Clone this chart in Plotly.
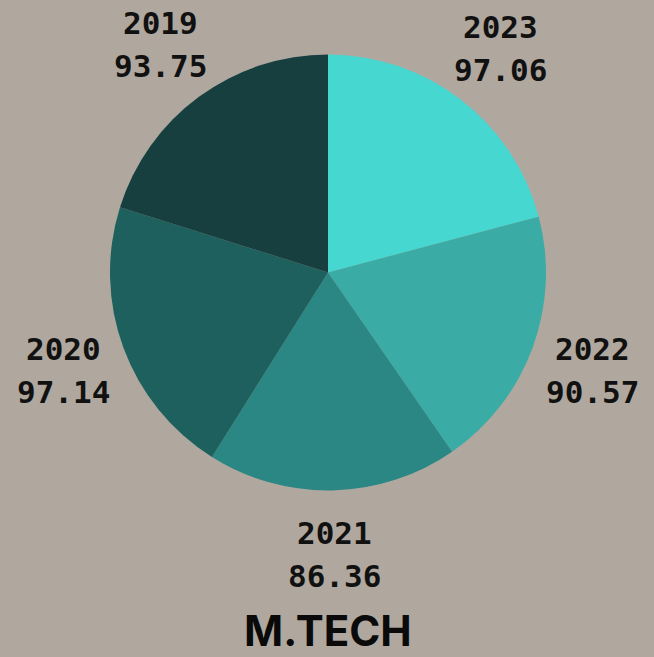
import math
import plotly.graph_objects as go

years = ["2023", "2022", "2021", "2020", "2019"]
values = [97.06, 90.57, 86.36, 97.14, 93.75]
value_labels = ["97.06", "90.57", "86.36", "97.14", "93.75"]
colors = ["#47D7D1", "#3BABA6", "#2A8784", "#1D605D", "#173F3F"]
title_text = "M.TECH"

W, H = 654, 657
cx, cy, R = 328, 272.5, 218
BG = "#b0a89e"

fig = go.Figure(go.Pie(
    labels=years,
    values=values,
    marker=dict(colors=colors, line=dict(width=0)),
    sort=False,
    direction="clockwise",
    rotation=0,
    textinfo="none",
    hoverinfo="label+value",
    showlegend=False,
    domain=dict(x=[(cx - R) / W, (cx + R) / W], y=[1 - (cy + R) / H, 1 - (cy - R) / H]),
))

total = sum(values)
cum = 0.0
annotations = []
lab_font = dict(family="DejaVu Sans Mono", size=31, color="#111111", weight="bold")
for yr, v, vl in zip(years, values, value_labels):
    mid = (cum + v / 2) / total * 2 * math.pi
    cum += v
    rr = R * 1.295
    px = cx + rr * math.sin(mid)
    py = cy - rr * math.cos(mid)
    for txt, shift in ((yr, 21.5), (vl, -21.5)):
        annotations.append(dict(
            x=px / W, y=1 - py / H, xref="paper", yref="paper",
            text=f"<b>{txt}</b>", showarrow=False, yshift=shift,
            xanchor="center", yanchor="middle", font=lab_font,
        ))

annotations.append(dict(
    x=cx / W, y=0, xref="paper", yref="paper",
    text=f"<b>{title_text}</b>", showarrow=False,
    xanchor="center", yanchor="bottom", borderpad=0,
    font=dict(family="Inter", size=42, color="#0a0a0a"),
))

fig.update_layout(
    width=W, height=H,
    margin=dict(l=0, r=0, t=0, b=0),
    paper_bgcolor=BG,
    plot_bgcolor=BG,
    annotations=annotations,
)

fig.write_html(
    "out.html",
    config={"displayModeBar": False},
    post_script=f"document.body.style.margin='0';document.body.style.overflow='hidden';document.body.style.background='{BG}';",
)
